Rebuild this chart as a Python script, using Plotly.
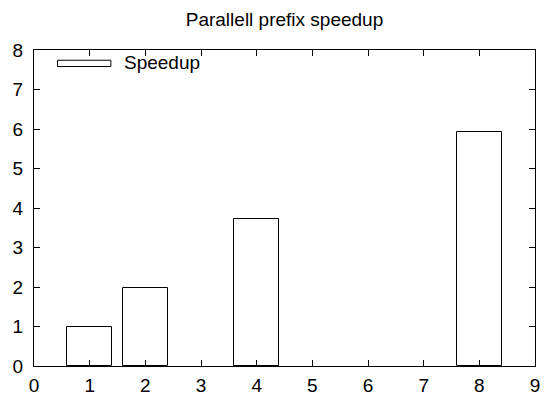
import plotly.graph_objects as go

threads = [1, 2, 4, 8]
speedup = [1.0, 1.97, 3.72, 5.92]
x_ticks = list(range(0, 10))
y_ticks = list(range(0, 9))
title_text = "Parallell prefix speedup"
series_name = "Speedup"

FONT = "Liberation Sans, Arial, Helvetica, sans-serif"
FS = 19
W, H = 545, 399

fig = go.Figure()
fig.add_trace(go.Bar(
    x=threads, y=speedup, width=0.8, name=series_name,
    marker=dict(color="white", line=dict(color="black", width=1)),
    showlegend=False,
))

axis_common = dict(
    showgrid=False, zeroline=False, showline=True, linecolor="black", linewidth=1,
    ticks="inside", ticklen=6, tickcolor="black", tickwidth=1, mirror="ticks",
    tickfont=dict(family=FONT, size=FS, color="black"), automargin=False,
)
fig.update_xaxes(range=[0, 9], tickvals=x_ticks, ticklabelstandoff=2, **axis_common)
fig.update_yaxes(range=[0, 8], tickvals=y_ticks, ticklabelstandoff=6, **axis_common)

# Legend key drawn like gnuplot's
fig.add_shape(type="rect", xref="paper", yref="paper",
              x0=0.047, x1=0.1534, y0=0.9477, y1=0.9676,
              line=dict(color="black", width=1), fillcolor="white")
fig.add_annotation(text=series_name, xref="paper", yref="paper",
                   x=0.1754, y=0.960, xanchor="left", yanchor="middle",
                   showarrow=False, font=dict(family=FONT, size=FS, color="black"))

fig.update_layout(
    width=W, height=H,
    margin=dict(l=34, r=10, t=50, b=33),
    paper_bgcolor="white", plot_bgcolor="white",
    title=dict(text=title_text, x=284.5 / W, xanchor="center",
               y=1 - 19 / H, yanchor="middle", yref="container",
               font=dict(family=FONT, size=FS, color="black")),
    bargap=0,
)

fig.write_html("out.html",
               config={"displayModeBar": False},
               post_script="document.body.style.margin='0';document.body.style.overflow='hidden';")
